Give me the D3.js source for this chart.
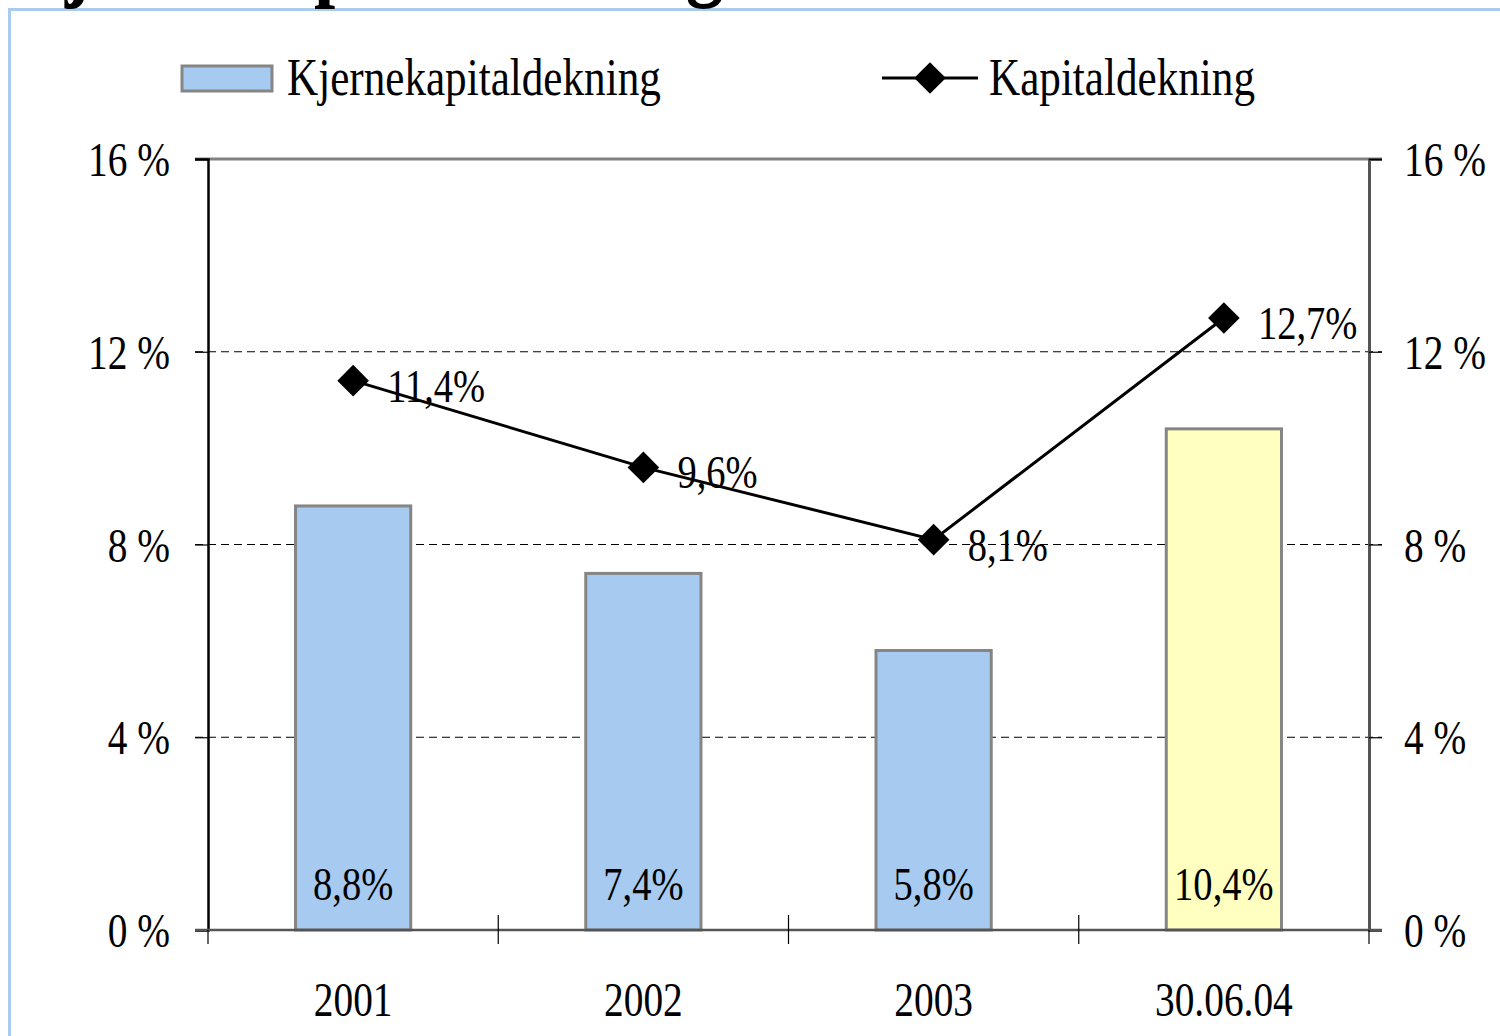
<!DOCTYPE html>
<meta charset="utf-8">
<style>
body { margin: 0; background: #fff; }
svg text { font-family: "Liberation Serif", "Times New Roman", serif; fill: #000; }
</style>
<body>
<svg width="1500" height="1036"></svg>
<script src="https://cdn.jsdelivr.net/npm/d3@7/dist/d3.min.js"></script>
<script>

var categories = ["2001", "2002", "2003", "30.06.04"];
var kjerne = [8.8, 7.4, 5.8, 10.4];      // Kjernekapitaldekning (bars)
var kapital = [11.4, 9.6, 8.1, 12.7];    // Kapitaldekning (line)
var yTicks = [0, 4, 8, 12, 16];
var barColors = ["#a6caf0", "#a6caf0", "#a6caf0", "#ffffc0"];

var svg = d3.select("svg"),
    plotL = 208, plotR = 1369, plotT = 159, plotB = 930,
    sx = 0.82; // text is drawn a bit condensed

var x = d3.scaleBand().domain(categories).range([plotL, plotR]),
    y = d3.scaleLinear().domain([0, 16]).range([plotB, plotT]);

var pct = function(d) { return String(d).replace(".", ",") + "%"; };

function label(sel, px, py, size, anchor, scale) {
  return sel.append("text")
      .attr("transform", "translate(" + px + "," + py + ") scale(" + (scale || sx) + ",1)")
      .attr("text-anchor", anchor || "start")
      .style("font-size", size + "px");
}

// outer frame + cut title
svg.append("rect")
    .attr("x", 9.5).attr("y", 9.5).attr("width", 1600).attr("height", 1100)
    .attr("fill", "none").attr("stroke", "#a9cbef").attr("stroke-width", 3);

label(svg, 6, -11, 95, "start", 0.8)
    .style("font-weight", "bold")
    .text("Kjernekapitaldekning");

// gridlines
svg.append("g").selectAll("line")
  .data(yTicks.filter(function(d) { return d > 0 && d < 16; }))
  .enter().append("line")
    .attr("x1", plotL - 13).attr("x2", plotR + 13)
    .attr("y1", function(d) { return y(d); }).attr("y2", function(d) { return y(d); })
    .attr("stroke", "#000").attr("stroke-width", 1)
    .attr("stroke-dasharray", "8,5");

// top border
svg.append("line")
    .attr("x1", plotL - 13).attr("x2", plotR + 13)
    .attr("y1", y(16)).attr("y2", y(16))
    .attr("stroke", "#808080").attr("stroke-width", 3);

// bars
var bw = x.bandwidth() * 0.397;
svg.append("g").selectAll("rect")
  .data(kjerne)
  .enter().append("rect")
    .attr("x", function(d, i) { return x(categories[i]) + x.bandwidth() / 2 - bw / 2; })
    .attr("y", function(d) { return y(d); })
    .attr("width", bw)
    .attr("height", function(d) { return y(0) - y(d); })
    .attr("fill", function(d, i) { return barColors[i]; })
    .attr("stroke", "#858585").attr("stroke-width", 3);

// axes
var yl = svg.append("g")
    .attr("transform", "translate(" + plotL + ",0)")
    .call(d3.axisLeft(y).tickValues(yTicks).tickSize(13).tickFormat(""));
var yr = svg.append("g")
    .attr("transform", "translate(" + plotR + ",0)")
    .call(d3.axisRight(y).tickValues(yTicks).tickSize(13).tickFormat(""));
yl.select(".domain").attr("stroke", "#000").attr("stroke-width", 2.5);
yr.select(".domain").attr("stroke", "#555").attr("stroke-width", 3);
yl.selectAll(".tick line").attr("stroke", "#000").attr("stroke-width", 1.2);
yr.selectAll(".tick line").attr("stroke", "#000").attr("stroke-width", 1.2);

svg.append("line")
    .attr("x1", plotL - 13).attr("x2", plotR + 13)
    .attr("y1", plotB).attr("y2", plotB)
    .attr("stroke", "#555").attr("stroke-width", 2.5);

var bounds = categories.map(function(c) { return x(c); }).concat([plotR]);
svg.append("g").selectAll("line")
  .data(bounds)
  .enter().append("line")
    .attr("x1", function(d) { return d; }).attr("x2", function(d) { return d; })
    .attr("y1", function(d, i) { return (i === 0 || i === bounds.length - 1) ? plotB : plotB - 15; })
    .attr("y2", plotB + 14)
    .attr("stroke", "#000").attr("stroke-width", 1.2);

yTicks.forEach(function(t) {
  label(svg, 170, y(t) + 17, 48, "end").text(t + " %");
  label(svg, 1404, y(t) + 17, 48, "start").text(t + " %");
});

categories.forEach(function(c) {
  label(svg, x(c) + x.bandwidth() / 2, 1016, 48, "middle").text(c);
});

// bar labels
kjerne.forEach(function(v, i) {
  label(svg, x(categories[i]) + x.bandwidth() / 2, 900, 47, "middle").text(pct(v));
});

// line
var cx = function(d, i) { return x(categories[i]) + x.bandwidth() / 2; };
var line = d3.line()
    .x(cx)
    .y(function(d) { return y(d); });

svg.append("path")
    .datum(kapital)
    .attr("d", line)
    .attr("fill", "none").attr("stroke", "#000").attr("stroke-width", 3);

var diamond = d3.symbol().type(d3.symbolSquare).size(500);
svg.append("g").selectAll("path")
  .data(kapital)
  .enter().append("path")
    .attr("transform", function(d, i) { return "translate(" + cx(d, i) + "," + y(d) + ") rotate(45)"; })
    .attr("d", diamond)
    .attr("fill", "#000");

kapital.forEach(function(v, i) {
  label(svg, cx(v, i) + 34, y(v) + 21, 47, "start").text(pct(v));
});

// legend
svg.append("rect")
    .attr("x", 182).attr("y", 66).attr("width", 90).attr("height", 25)
    .attr("fill", barColors[0]).attr("stroke", "#858585").attr("stroke-width", 3);
label(svg, 287, 95, 52, "start", 0.83).text("Kjernekapitaldekning");

svg.append("line")
    .attr("x1", 882).attr("x2", 978).attr("y1", 78).attr("y2", 78)
    .attr("stroke", "#000").attr("stroke-width", 3);
svg.append("path")
    .attr("transform", "translate(930,78) rotate(45)")
    .attr("d", diamond)
    .attr("fill", "#000");
label(svg, 989, 95, 52, "start", 0.83).text("Kapitaldekning");

</script>
</body>
